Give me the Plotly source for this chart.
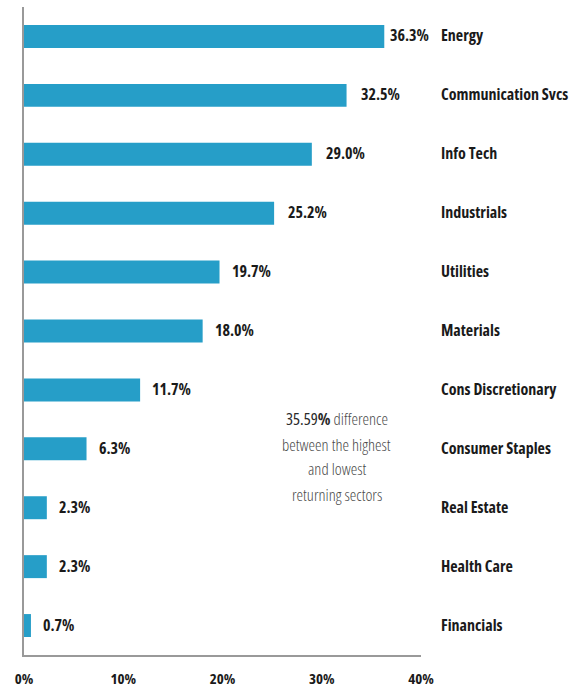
import plotly.graph_objects as go

sectors = ["Energy", "Communication Svcs", "Info Tech", "Industrials", "Utilities",
           "Materials", "Cons Discretionary", "Consumer Staples", "Real Estate",
           "Health Care", "Financials"]
returns = [36.3, 32.5, 29.0, 25.2, 19.7, 18.0, 11.7, 6.3, 2.3, 2.3, 0.7]
x_ticks = [0, 10, 20, 30, 40]
x_tick_labels = ["0%", "10%", "20%", "30%", "40%"]
note_lines = ["<span style='color:#2a2a2a;font-weight:400'>35.59<b>%</b></span> difference",
              "between the highest", "and lowest", "returning sectors"]

FONT = "Open Sans"
BAR = "#269ec8"
DARK = "#1a1a1a"


def cond(t, weight=700):
    return f"<span style='font-stretch:condensed;font-weight:{weight}'>{t}</span>"


fig = go.Figure(go.Bar(
    x=returns, y=list(range(len(sectors))), orientation="h",
    marker=dict(color=BAR, line=dict(width=0)),
    width=0.39, hoverinfo="skip",
))

for i, (s, v) in enumerate(zip(sectors, returns)):
    shift = 4 if v > 34 else (12 if v > 20 else 10)
    fig.add_annotation(x=v, y=i, text=cond(f"{v:.1f}%"), showarrow=False,
                       xanchor="left", xshift=shift, yshift=1,
                       font=dict(family=FONT, size=16, color=DARK))
    fig.add_annotation(x=1, xref="paper", y=i, text=cond(s), showarrow=False,
                       xanchor="left", xshift=18, yshift=1,
                       font=dict(family=FONT, size=16, color=DARK))

note_y = [6.49, 6.92, 7.34, 7.77]
for line, yy in zip(note_lines, note_y):
    fig.add_annotation(x=31.5, y=yy, text=cond(line, 300), showarrow=False,
                       xanchor="center", yanchor="middle",
                       font=dict(family=FONT, size=16.5, color="#4a4a4a"))

fig.update_layout(
    width=574, height=687,
    margin=dict(l=24, r=153, t=7, b=32),
    paper_bgcolor="white", plot_bgcolor="white",
    showlegend=False,
    font=dict(family=FONT),
    xaxis=dict(range=[0, 40], tickvals=x_ticks,
               ticktext=[cond(t) for t in x_tick_labels],
               showgrid=False, zeroline=False, showline=True,
               linecolor="#999999", linewidth=2, ticks="",
               tickfont=dict(family=FONT, size=15, color=DARK),
               ticklabelstandoff=9, automargin=False),
    yaxis=dict(range=[10.5, -0.5], showticklabels=False, showgrid=False,
               zeroline=False, showline=True, linecolor="#999999", linewidth=2,
               ticks="", automargin=False),
)

fig.write_html("out.html", config={"displayModeBar": False},
               post_script="document.body.style.margin='0';")
